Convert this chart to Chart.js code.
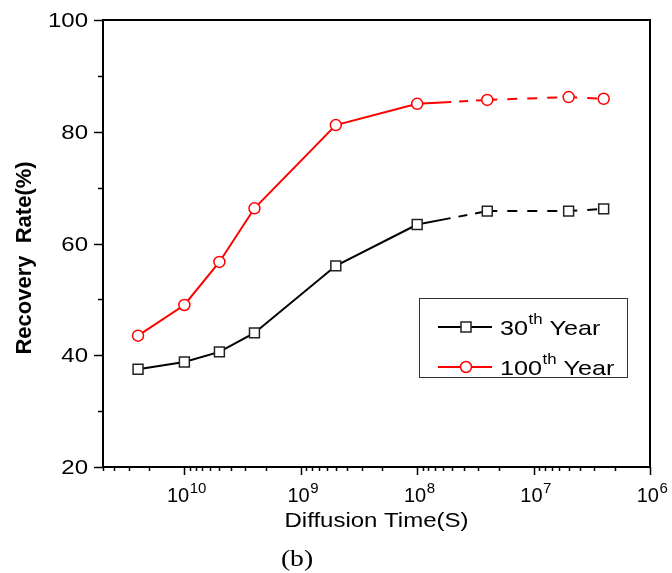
<!DOCTYPE html>
<html>
<head>
<meta charset="utf-8">
<script src="https://cdn.jsdelivr.net/npm/chart.js@4.4.0/dist/chart.umd.min.js"></script>
<style>
  html, body { margin: 0; padding: 0; background: #fff; }
  #wrap { width: 672px; height: 573px; }
</style>
</head>
<body>
<div id="wrap"><canvas id="chart" width="672" height="573"></canvas></div>
<script>
// ---- data ----
const diffusionTimes = [2.5e10, 1e10, 5e9, 2.5e9, 5e8, 1e8, 2.5e7, 5e6, 2.5e6];
const year30  = [37.5, 38.8, 40.6, 44.0, 56.0, 63.4, 65.8, 65.8, 66.2];
const year100 = [43.5, 49.0, 56.7, 66.3, 81.2, 85.0, 85.7, 86.2, 85.9];
const seriesOrdinals = ["30", "100"];
const seriesColors   = ["#000000", "#ff0000"];
const xDecades = [10, 9, 8, 7, 6];
const yLabels  = [20, 40, 60, 80, 100];
const xTitle = "Diffusion Time(S)";
const yTitle = "Recovery  Rate(%)";
const dashedFrom = 5;          // segments after this point are dashed

const FONT = "'Liberation Sans', Arial, sans-serif";
const SX = 1.2;                // the source figure is stretched sideways

function segDash(ctx) {
  if (ctx.p0DataIndex < dashedFrom) return undefined;
  if (ctx.p0DataIndex === dashedFrom) return [34, 8, 9, 8];
  return [10, 10];
}

// draw text squeezed/stretched horizontally, anchored by align
function wideText(ctx, str, x, y, align, font) {
  ctx.save();
  ctx.font = font;
  const w = ctx.measureText(str).width * SX;
  let x0 = x;
  if (align === "center") x0 = x - w / 2;
  else if (align === "right") x0 = x - w;
  ctx.translate(x0, y);
  ctx.scale(SX, 1);
  ctx.textAlign = "left";
  ctx.fillText(str, 0, 0);
  ctx.restore();
  return w;
}

/* ---------- extra drawing: ticks, labels, frame, legend ---------- */
const decor = {
  id: "decor",
  afterDraw(chart) {
    const { ctx, chartArea: a, scales: { x, y } } = chart;
    ctx.save();
    ctx.strokeStyle = "#000";
    ctx.fillStyle = "#000";

    // frame top + right
    ctx.lineWidth = 2;
    ctx.beginPath();
    ctx.moveTo(a.left, a.top); ctx.lineTo(a.right, a.top); ctx.lineTo(a.right, a.bottom);
    ctx.stroke();

    // y ticks (outward) + labels
    ctx.lineWidth = 1.5;
    ctx.textBaseline = "middle";
    for (let v = y.min; v <= y.max; v += 10) {
      const py = Math.round(y.getPixelForValue(v)) + 0.5;
      const major = yLabels.includes(v);
      ctx.beginPath(); ctx.moveTo(a.left, py); ctx.lineTo(a.left - (major ? 9 : 5), py); ctx.stroke();
      if (major) wideText(ctx, String(v), 88, py + 1, "right", "20px " + FONT);
    }

    // x ticks (outward), log decades + minors
    for (let d = 5; d <= 10; d++) {
      for (let m = 1; m <= 9; m++) {
        const v = m * Math.pow(10, d);
        if (v < x.min * 0.999 || v > x.max * 1.001) continue;
        const px = Math.round(x.getPixelForValue(v)) + 0.5;
        const len = m === 1 ? 8 : 4;
        ctx.beginPath(); ctx.moveTo(px, a.bottom); ctx.lineTo(px, a.bottom + len); ctx.stroke();
      }
    }

    // x labels 10^n
    ctx.textBaseline = "alphabetic";
    ctx.textAlign = "left";
    xDecades.forEach(e => {
      const px = x.getPixelForValue(Math.pow(10, e));
      ctx.font = "20px " + FONT;
      const wb = ctx.measureText("10").width;
      ctx.font = "15px " + FONT;
      const we = ctx.measureText(String(e)).width;
      const left = px - (wb + we) / 2 + 2;
      ctx.font = "20px " + FONT;
      ctx.fillText("10", left, 502);
      ctx.font = "15px " + FONT;
      ctx.fillText(String(e), left + wb + 0.5, 493);
    });

    // axis titles
    wideText(ctx, xTitle, (a.left + a.right) / 2, 527, "center", "20px " + FONT);
    ctx.save();
    ctx.translate(31, 258);
    ctx.rotate(-Math.PI / 2);
    ctx.font = "bold 22px " + FONT;
    ctx.textAlign = "center";
    ctx.fillText(yTitle, 0, 0);
    ctx.restore();

    // legend
    const lx = 419, ly = 298, lw = 208, lh = 79;
    ctx.lineWidth = 1;
    ctx.strokeStyle = "#333";
    ctx.strokeRect(lx + 0.5, ly + 0.5, lw, lh);
    const rows = [327, 367];
    rows.forEach((ry, i) => {
      ctx.strokeStyle = seriesColors[i];
      ctx.lineWidth = 2;
      ctx.beginPath(); ctx.moveTo(438, ry); ctx.lineTo(492, ry); ctx.stroke();
      ctx.fillStyle = "#fff";
      ctx.lineWidth = 1.5;
      if (i === 0) {
        ctx.strokeStyle = "#222";
        ctx.fillRect(461, ry - 5, 10, 10);
        ctx.strokeRect(461, ry - 5, 10, 10);
      } else {
        ctx.beginPath(); ctx.arc(466, ry, 5.5, 0, Math.PI * 2); ctx.fill(); ctx.stroke();
      }
      ctx.fillStyle = "#000";
      let tx = 500;
      tx += wideText(ctx, seriesOrdinals[i], tx, ry + 8, "left", "21px " + FONT) + 0.5;
      tx += wideText(ctx, "th", tx, ry - 3, "left", "14px " + FONT);
      wideText(ctx, " Year", tx, ry + 8, "left", "21px " + FONT);
    });

    // panel tag
    wideText(ctx, "(b)", 297, 566, "center", "23px 'Liberation Serif', 'Times New Roman', serif");
    ctx.restore();
  }
};

const pts = arr => diffusionTimes.map((t, i) => ({ x: t, y: arr[i] }));

new Chart(document.getElementById("chart"), {
  type: "line",
  data: {
    datasets: [
      {
        label: "30th Year", data: pts(year30),
        borderColor: seriesColors[0], borderWidth: 2,
        pointStyle: "rect", pointRadius: 7, pointHoverRadius: 7,
        pointBackgroundColor: "#fff", pointBorderColor: "#222", pointBorderWidth: 1.5,
        segment: { borderDash: segDash }
      },
      {
        label: "100th Year", data: pts(year100),
        borderColor: seriesColors[1], borderWidth: 2,
        pointStyle: "circle", pointRadius: 5.5, pointHoverRadius: 5.5,
        pointBackgroundColor: "#fff", pointBorderColor: seriesColors[1], pointBorderWidth: 1.5,
        segment: { borderDash: segDash }
      }
    ]
  },
  options: {
    responsive: false,
    animation: false,
    layout: { padding: { top: 20, right: 22, left: 0, bottom: 0 } },
    plugins: { legend: { display: false }, tooltip: { enabled: false } },
    scales: {
      x: {
        type: "logarithmic", reverse: true, min: 1e6, max: 5e10,
        ticks: { display: false },
        grid: { display: false, drawTicks: false },
        border: { display: true, color: "#000", width: 2 },
        afterFit: s => { s.height = 106; }
      },
      y: {
        min: 20, max: 100,
        ticks: { display: false },
        grid: { display: false, drawTicks: false },
        border: { display: true, color: "#000", width: 2 },
        afterFit: s => { s.width = 103; }
      }
    }
  },
  plugins: [decor]
});
</script>
</body>
</html>
